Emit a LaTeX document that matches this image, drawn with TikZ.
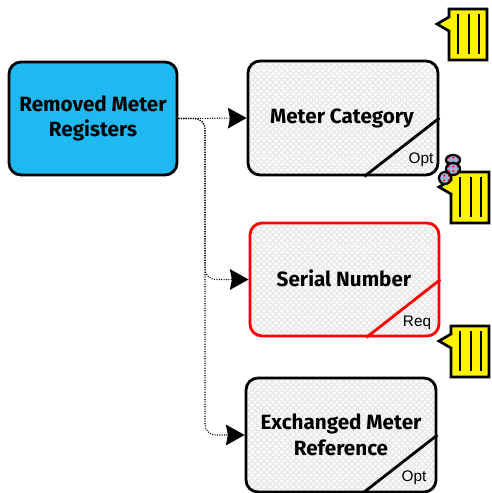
\documentclass[tikz,border=0pt]{standalone}
\usepackage{fontspec}
\setmainfont{Fira Sans}[BoldFont={Fira Sans Bold}]
\newfontfamily\flagfont{Liberation Sans}
\usetikzlibrary{arrows.meta,patterns,positioning}
\definecolor{mainblue}{RGB}{32,184,240}
\definecolor{boxgray}{RGB}{234,234,234}
\pgfdeclarepatternformonly{meshdots}{\pgfqpoint{-1.5pt}{-1.5pt}}{\pgfqpoint{5pt}{5pt}}{\pgfqpoint{4.4pt}{4.4pt}}{%
  \pgfpathcircle{\pgfqpoint{0pt}{0pt}}{1.3pt}\pgfpathcircle{\pgfqpoint{2.2pt}{2.2pt}}{1.1pt}\pgfusepath{fill}}
\pgfdeclarepatternformonly{beaddots}{\pgfqpoint{-1pt}{-1pt}}{\pgfqpoint{4pt}{4pt}}{\pgfqpoint{3.4pt}{3.4pt}}{%
  \pgfpathcircle{\pgfqpoint{0pt}{0pt}}{0.85pt}\pgfusepath{fill}}
\tikzset{
  x=0.75pt,y=-0.75pt,
  titlefont/.style={font=\bfseries\fontsize{15.5}{18.75}\selectfont},
  mainbox/.style={draw=black,line width=2.1pt,rounded corners=9pt,fill=mainblue,align=center,inner sep=0pt,titlefont},
  attrbox/.style={draw=#1,line width=2.1pt,rounded corners=9pt,preaction={fill=boxgray},pattern=meshdots,pattern color=white,align=center,inner sep=0pt},
  flag/.style={font=\flagfont\fontsize{11.5}{13}\selectfont,inner sep=0pt},
  link/.style={densely dotted,line width=0.8pt,rounded corners=8pt},
  tip/.style={-{Stealth[length=14pt,width=15.5pt,inset=1.5pt]}},
  note/.style={draw=black,line width=2pt,fill=yellow},
  notebar/.style={draw=black,line width=2.2pt},
  bead/.style={draw=black,line width=1.7pt,preaction={fill=cyan!45!blue!40!white},pattern=beaddots,pattern color=red},
}
\newcommand{\notemark}[2]{%
  \begin{scope}[shift={(#1,#2)}]
    \draw[note] (0,0) -- (38,0) -- (38,51) -- (0,51) -- (0,22) -- (-12,15) -- (0,8) -- cycle;
    \draw[notebar] (9,5) -- (9,45) (20,5) -- (20,45) (30,5) -- (30,45);
  \end{scope}}
\begin{document}
\begin{tikzpicture}
\useasboundingbox (0,0) rectangle (492,493);
\node[mainbox,minimum width=126pt,minimum height=84.75pt] (main) at (93,118.5) {Removed Meter\\[0.5pt]Registers};
\node[attrbox=black,minimum width=142.5pt,minimum height=85.5pt] (cat) at (343,118) {};
\node[attrbox=red,minimum width=141.75pt,minimum height=84.75pt] (ser) at (344.5,279.5) {};
\node[attrbox=black,minimum width=142.5pt,minimum height=85.5pt] (exc) at (341,435) {};
\node[titlefont,align=center] (catT) at (342,118.5) {Meter Category};
\node[titlefont,align=center] (serT) at (344,278.5) {Serial Number};
\node[titlefont,align=center] (excT) at (341,434.5) {Exchanged Meter\\[0.5pt]Reference};
\draw[black,line width=2.1pt] (cat.east) -- ([xshift=-56.25pt]cat.south east);
\draw[red,line width=2.1pt] (ser.east) -- ([xshift=-55.5pt]ser.south east);
\draw[black,line width=2.1pt] (exc.east) -- ([xshift=-56.25pt]exc.south east);
\node[flag] (catF) at (421,160) {Opt};
\node[flag] (serF) at (417,323) {Req};
\node[flag] (excF) at (414,478) {Opt};
\draw[link,tip] (main.east) -- (cat.west);
\draw[link,tip] (main.east) -| (205,200) |- (ser.west);
\draw[link,tip] (main.east) -| (205,300) |- (exc.west);
\notemark{449}{9}
\notemark{451}{172}
\notemark{451}{326}
\draw[bead] (453,160) ellipse [x radius=7,y radius=5];
\draw[bead] (453,169) ellipse [x radius=7,y radius=6];
\draw[bead] (445,178) ellipse [x radius=6,y radius=6];
\end{tikzpicture}
\end{document}
